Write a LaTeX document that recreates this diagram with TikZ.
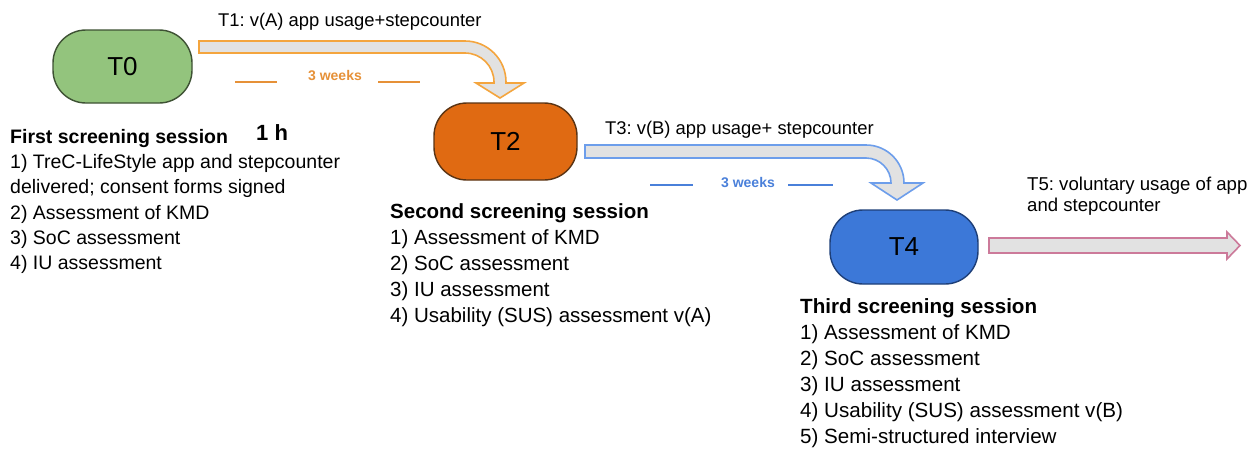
\documentclass[tikz,border=0pt]{standalone}
\usepackage{fontspec}
\setmainfont{Liberation Sans}
\frenchspacing
\definecolor{tgreen}{HTML}{93C47D}
\definecolor{tgreenb}{HTML}{3E5234}
\definecolor{torange}{HTML}{E06A12}
\definecolor{torangeb}{HTML}{5A3414}
\definecolor{tblue}{HTML}{3C78D8}
\definecolor{tblueb}{HTML}{1E3F78}
\definecolor{arrfill}{HTML}{E2E2E2}
\definecolor{arrorange}{HTML}{F4A53E}
\definecolor{arrblue}{HTML}{6D9EEB}
\definecolor{arrpink}{HTML}{CC7A9A}
\definecolor{wkorange}{HTML}{E69138}
\definecolor{wkblue}{HTML}{4A80DA}
\tikzset{
  tbox/.style={rectangle, rounded corners=33pt, line width=1.4pt, inner sep=0pt,
    font=\fontsize{26}{30}\selectfont},
  bigarrow/.style={fill=arrfill, line width=1.6pt, line join=miter},
  wkline/.style={line width=1.5pt},
  wktext/.style={font=\bfseries\fontsize{14}{16}\selectfont, inner sep=0pt},
  phase/.style={anchor=base west, inner sep=0pt, font=\fontsize{18.4}{22}\selectfont},
  session/.style={anchor=north west, inner sep=0pt, align=left},
}
\begin{document}
\begin{tikzpicture}[x=1pt,y=-1pt]
\useasboundingbox (0,0) rectangle (1251,453);
\fill[white] (0,0) rectangle (1251,453);

% boxes
\node[tbox, draw=tgreenb, fill=tgreen, minimum width=139pt, minimum height=73pt] (T0) at (122.5,66.5) {T0};
\node[tbox, draw=torangeb, fill=torange, minimum width=143pt, minimum height=77pt] (T2) at (505.5,141.5) {T2};
\node[tbox, draw=tblueb, fill=tblue, minimum width=148pt, minimum height=74pt] (T4) at (904,247) {T4};

% arrow T0 -> T2
\coordinate (a1s) at (199,47);
\coordinate (a1e) at (500,98);
\draw[bigarrow, draw=arrorange] (a1s |- 0,41) -- (465,41)
  .. controls (487.6,41) and (506,59.4) .. (506,82) -- (506,83) -- (524,83)
  -- (a1e) -- (476,83) -- (494,83) -- (494,82)
  .. controls (494,66) and (481,53) .. (465,53) -- (a1s |- 0,53) -- cycle;

% arrow T2 -> T4
\coordinate (a2s) at (585,151.5);
\coordinate (a2e) at (897,200);
\draw[bigarrow, draw=arrblue] (a2s |- 0,145) -- (866,145)
  .. controls (887,145) and (904,162) .. (904,183) -- (923,183)
  -- (a2e) -- (871,183) -- (891,183)
  .. controls (891,169.2) and (879.8,158) .. (866,158) -- (a2s |- 0,158) -- cycle;

% arrow T4 -> beyond
\coordinate (a3s) at (989,245.5);
\coordinate (a3e) at (1240,245.5);
\draw[bigarrow, draw=arrpink] (a3s |- 0,238) -- (1227,238) -- (1227,232)
  -- (a3e) -- (1227,259) -- (1227,253) -- (a3s |- 0,253) -- cycle;

% phase labels
\node[phase] (t1) at (218,26) {T1: v(A) app usage+stepcounter};
\node[phase] (t3) at (605,134) {T3: v(B) app usage+ stepcounter};
\node[anchor=base west, inner sep=0pt, align=left, font=\fontsize{18.6}{21.7}\selectfont] (t5) at (1027,211.7)
  {T5: voluntary usage of app\\and stepcounter};

% 3 weeks
\node[wktext, text=wkorange] (w1) at (335,76) {3 weeks};
\coordinate (w1l) at (235,82); \coordinate (w1lb) at (277,82);
\coordinate (w1r) at (378,82); \coordinate (w1rb) at (420,82);
\draw[wkline, wkorange] (w1l) -- (w1lb);
\draw[wkline, wkorange] (w1r) -- (w1rb);

\node[wktext, text=wkblue] (w2) at (748,183) {3 weeks};
\coordinate (w2l) at (650,185); \coordinate (w2lb) at (693,185);
\coordinate (w2r) at (788,185); \coordinate (w2rb) at (833,185);
\draw[wkline, wkblue] (w2l) -- (w2lb);
\draw[wkline, wkblue] (w2r) -- (w2rb);

% sessions
\node[session, font=\fontsize{19.5}{25.3}\selectfont] (s1) at (10,129)
  {\textbf{First screening session}\\
   1) TreC-LifeStyle app and stepcounter\\
   delivered; consent forms signed\\
   2) Assessment of KMD\\
   3) SoC assessment\\
   4) IU assessment};
\node[anchor=base west, inner sep=0pt, font=\bfseries\fontsize{22}{24}\selectfont] (oneh) at (256,140) {1 h};

\node[session, font=\fontsize{20.5}{26.2}\selectfont] (s2) at (390,203)
  {\textbf{Second screening session}\\
   1) Assessment of KMD\\
   2) SoC assessment\\
   3) IU assessment\\
   4) Usability (SUS) assessment v(A)};

\node[session, font=\fontsize{20.6}{26}\selectfont] (s3) at (800,298)
  {\textbf{Third screening session}\\
   1) Assessment of KMD\\
   2) SoC assessment\\
   3) IU assessment\\
   4) Usability (SUS) assessment v(B)\\
   5) Semi-structured interview};
\end{tikzpicture}
\end{document}
